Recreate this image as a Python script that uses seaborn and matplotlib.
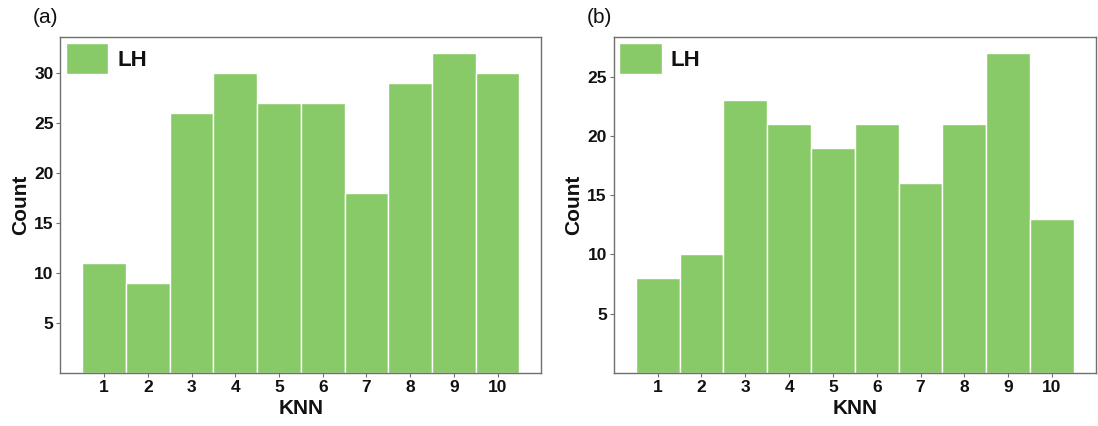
import numpy as np
import pandas as pd
import matplotlib
matplotlib.use("Agg")
import matplotlib.pyplot as plt
import seaborn as sns

knn = [1, 2, 3, 4, 5, 6, 7, 8, 9, 10]
counts_a = [11, 9, 26, 30, 27, 27, 18, 29, 32, 30]
counts_b = [8, 10, 23, 21, 19, 21, 16, 21, 27, 13]
panel_labels = ["(a)", "(b)"]
series_name = "LH"

sns.set_style("ticks")
plt.rcParams['font.family'] = ['Liberation Sans', 'DejaVu Sans']
plt.rcParams['text.color'] = '#111111'
plt.rcParams['axes.labelcolor'] = '#111111'
plt.rcParams['xtick.labelcolor'] = '#111111'
plt.rcParams['ytick.labelcolor'] = '#111111'

green = "#88CA68"
spine_col = "#707070"

fig = plt.figure(figsize=(10.98, 4.26), dpi=100)
axes = [fig.add_axes([0.055, 0.125, 0.438, 0.788]),
        fig.add_axes([0.559, 0.125, 0.439, 0.788])]

for ax, counts, lab in zip(axes, [counts_a, counts_b], panel_labels):
    df = pd.DataFrame({"KNN": knn, "Count": counts})
    sns.histplot(data=df, x="KNN", weights="Count", discrete=True, ax=ax,
                 color=green, alpha=1, edgecolor="white", linewidth=1,
                 label=series_name)
    ax.set_xticks(knn)
    ax.set_yticks([5, 10, 15, 20, 25, 30][:int(max(counts) // 5)])
    ax.set_xlabel("KNN", fontsize=15, fontweight="bold", labelpad=3)
    ax.set_ylabel("Count", fontsize=15, fontweight="bold", labelpad=3)
    for t in ax.get_xticklabels() + ax.get_yticklabels():
        t.set_fontweight("bold")
        t.set_fontsize(12.5)
    ax.tick_params(length=3, width=0.8, color=spine_col, pad=2)
    for s in ax.spines.values():
        s.set_color(spine_col)
        s.set_linewidth(1)
    ax.legend(loc="upper left", frameon=False,
              prop={"weight": "bold", "size": 16},
              handlelength=1.9, handleheight=1.8, handletextpad=0.4,
              borderaxespad=0.05, borderpad=0.2)
    ax.text(-0.057, 1.03, lab, transform=ax.transAxes, fontsize=15,
            va="bottom", ha="left")

fig.savefig("out.png", dpi=100)
